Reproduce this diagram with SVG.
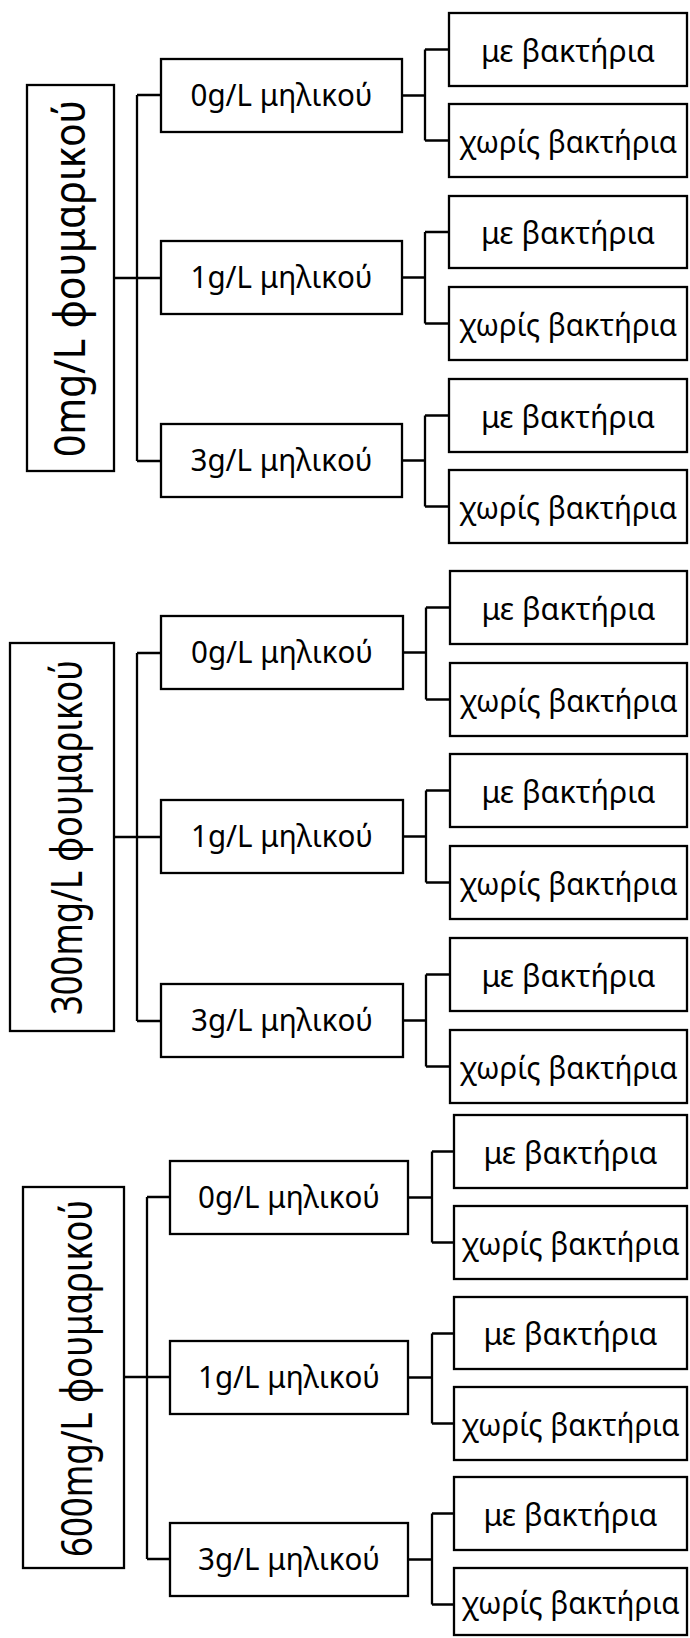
<svg xmlns="http://www.w3.org/2000/svg" width="690" height="1638" viewBox="0 0 690 1638">
<style>
.box{fill:#fff;stroke:#000;stroke-width:2.3}
.con{fill:none;stroke:#000;stroke-width:2.3}
text{font-family:"Noto Sans","Open Sans","DejaVu Sans",sans-serif;fill:#000;text-anchor:middle}
.mid{font-size:30px}
.leaf{font-size:31px}
.root{font-size:44px}
</style>
<rect width="690" height="1638" fill="#fff"/>
<g id="connectors">
<path class="con" d="M114 278H161M137 95V461M137 95H161M137 461H161"/>
<path class="con" d="M402 95.5H425M425 49.5V140.5M425 49.5H449M425 140.5H449"/>
<path class="con" d="M402 277.5H425M425 232V323.5M425 232H449M425 323.5H449"/>
<path class="con" d="M402 460.5H425M425 415.5V506.5M425 415.5H449M425 506.5H449"/>
<path class="con" d="M114 837H161M137 653V1021M137 653H161M137 1021H161"/>
<path class="con" d="M403 652.5H426M426 607.5V699.5M426 607.5H450M426 699.5H450"/>
<path class="con" d="M403 836.5H426M426 790.5V882.5M426 790.5H450M426 882.5H450"/>
<path class="con" d="M403 1020.5H426M426 974.5V1066.5M426 974.5H450M426 1066.5H450"/>
<path class="con" d="M124 1377H170M147 1197V1559M147 1197H170M147 1559H170"/>
<path class="con" d="M408 1197.5H432M432 1151.5V1242.5M432 1151.5H454M432 1242.5H454"/>
<path class="con" d="M408 1377.5H432M432 1333.5V1423.5M432 1333.5H454M432 1423.5H454"/>
<path class="con" d="M408 1559.5H432M432 1513.5V1604.5M432 1513.5H454M432 1604.5H454"/>
</g>
<!-- Section 1 -->
<g id="root0"><rect class="box" x="27" y="85" width="87" height="386"/><text class="root" transform="translate(85,278.5) rotate(-90)" textLength="357" lengthAdjust="spacingAndGlyphs">0mg/L φουμαρικού</text></g>
<g id="s0m0"><rect class="box" x="161" y="59" width="241" height="73"/><text class="mid" x="281.5" y="105.5" textLength="182" lengthAdjust="spacingAndGlyphs">0g/L μηλικού</text></g>
<g id="s0m1"><rect class="box" x="161" y="241" width="241" height="73"/><text class="mid" x="281.5" y="287.5" textLength="182" lengthAdjust="spacingAndGlyphs">1g/L μηλικού</text></g>
<g id="s0m3"><rect class="box" x="161" y="424" width="241" height="73"/><text class="mid" x="281.5" y="470.5" textLength="182" lengthAdjust="spacingAndGlyphs">3g/L μηλικού</text></g>
<g id="s0m0a"><rect class="box" x="449" y="13" width="238" height="73"/><text class="leaf" x="568" y="61.5" textLength="174" lengthAdjust="spacingAndGlyphs">με βακτήρια</text></g>
<g id="s0m0b"><rect class="box" x="449" y="104" width="238" height="73"/><text class="leaf" x="568" y="152.5" textLength="218" lengthAdjust="spacingAndGlyphs">χωρίς βακτήρια</text></g>
<g id="s0m1a"><rect class="box" x="449" y="196" width="238" height="72"/><text class="leaf" x="568" y="244" textLength="174" lengthAdjust="spacingAndGlyphs">με βακτήρια</text></g>
<g id="s0m1b"><rect class="box" x="449" y="287" width="238" height="73"/><text class="leaf" x="568" y="335.5" textLength="218" lengthAdjust="spacingAndGlyphs">χωρίς βακτήρια</text></g>
<g id="s0m3a"><rect class="box" x="449" y="379" width="238" height="73"/><text class="leaf" x="568" y="427.5" textLength="174" lengthAdjust="spacingAndGlyphs">με βακτήρια</text></g>
<g id="s0m3b"><rect class="box" x="449" y="470" width="238" height="73"/><text class="leaf" x="568" y="518.5" textLength="218" lengthAdjust="spacingAndGlyphs">χωρίς βακτήρια</text></g>
<!-- Section 2 -->
<g id="root300"><rect class="box" x="10" y="643" width="104" height="388"/><text class="root" transform="translate(82,837.5) rotate(-90)" textLength="355" lengthAdjust="spacingAndGlyphs">300mg/L φουμαρικού</text></g>
<g id="s1m0"><rect class="box" x="161" y="616" width="242" height="73"/><text class="mid" x="282" y="662.5" textLength="182" lengthAdjust="spacingAndGlyphs">0g/L μηλικού</text></g>
<g id="s1m1"><rect class="box" x="161" y="800" width="242" height="73"/><text class="mid" x="282" y="846.5" textLength="182" lengthAdjust="spacingAndGlyphs">1g/L μηλικού</text></g>
<g id="s1m3"><rect class="box" x="161" y="984" width="242" height="73"/><text class="mid" x="282" y="1030.5" textLength="182" lengthAdjust="spacingAndGlyphs">3g/L μηλικού</text></g>
<g id="s1m0a"><rect class="box" x="450" y="571" width="237" height="73"/><text class="leaf" x="568.5" y="619.5" textLength="174" lengthAdjust="spacingAndGlyphs">με βακτήρια</text></g>
<g id="s1m0b"><rect class="box" x="450" y="663" width="237" height="73"/><text class="leaf" x="568.5" y="711.5" textLength="218" lengthAdjust="spacingAndGlyphs">χωρίς βακτήρια</text></g>
<g id="s1m1a"><rect class="box" x="450" y="754" width="237" height="73"/><text class="leaf" x="568.5" y="802.5" textLength="174" lengthAdjust="spacingAndGlyphs">με βακτήρια</text></g>
<g id="s1m1b"><rect class="box" x="450" y="846" width="237" height="73"/><text class="leaf" x="568.5" y="894.5" textLength="218" lengthAdjust="spacingAndGlyphs">χωρίς βακτήρια</text></g>
<g id="s1m3a"><rect class="box" x="450" y="938" width="237" height="73"/><text class="leaf" x="568.5" y="986.5" textLength="174" lengthAdjust="spacingAndGlyphs">με βακτήρια</text></g>
<g id="s1m3b"><rect class="box" x="450" y="1030" width="237" height="73"/><text class="leaf" x="568.5" y="1078.5" textLength="218" lengthAdjust="spacingAndGlyphs">χωρίς βακτήρια</text></g>
<!-- Section 3 -->
<g id="root600"><rect class="box" x="23" y="1187" width="101" height="381"/><text class="root" transform="translate(92,1378.5) rotate(-90)" textLength="357" lengthAdjust="spacingAndGlyphs">600mg/L φουμαρικού</text></g>
<g id="s2m0"><rect class="box" x="170" y="1161" width="238" height="73"/><text class="mid" x="289" y="1207.5" textLength="182" lengthAdjust="spacingAndGlyphs">0g/L μηλικού</text></g>
<g id="s2m1"><rect class="box" x="170" y="1341" width="238" height="73"/><text class="mid" x="289" y="1387.5" textLength="182" lengthAdjust="spacingAndGlyphs">1g/L μηλικού</text></g>
<g id="s2m3"><rect class="box" x="170" y="1523" width="238" height="73"/><text class="mid" x="289" y="1569.5" textLength="182" lengthAdjust="spacingAndGlyphs">3g/L μηλικού</text></g>
<g id="s2m0a"><rect class="box" x="454" y="1115" width="233" height="73"/><text class="leaf" x="570.5" y="1163.5" textLength="174" lengthAdjust="spacingAndGlyphs">με βακτήρια</text></g>
<g id="s2m0b"><rect class="box" x="454" y="1206" width="233" height="73"/><text class="leaf" x="570.5" y="1254.5" textLength="218" lengthAdjust="spacingAndGlyphs">χωρίς βακτήρια</text></g>
<g id="s2m1a"><rect class="box" x="454" y="1297" width="233" height="72"/><text class="leaf" x="570.5" y="1345" textLength="174" lengthAdjust="spacingAndGlyphs">με βακτήρια</text></g>
<g id="s2m1b"><rect class="box" x="454" y="1387" width="233" height="73"/><text class="leaf" x="570.5" y="1435.5" textLength="218" lengthAdjust="spacingAndGlyphs">χωρίς βακτήρια</text></g>
<g id="s2m3a"><rect class="box" x="454" y="1477" width="233" height="73"/><text class="leaf" x="570.5" y="1525.5" textLength="174" lengthAdjust="spacingAndGlyphs">με βακτήρια</text></g>
<g id="s2m3b"><rect class="box" x="454" y="1568" width="233" height="67"/><text class="leaf" x="570.5" y="1613.5" textLength="218" lengthAdjust="spacingAndGlyphs">χωρίς βακτήρια</text></g>
</svg>
